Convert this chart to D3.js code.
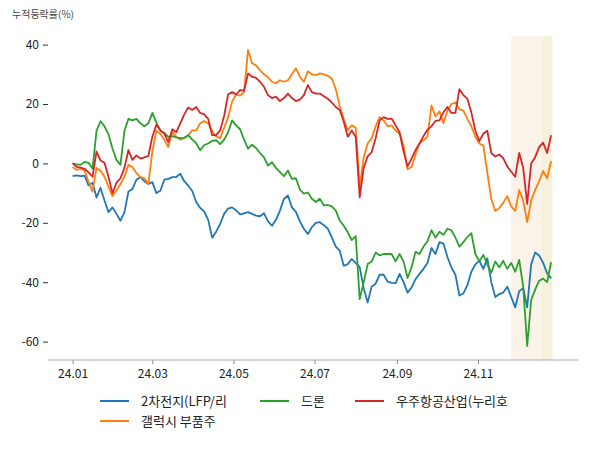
<!DOCTYPE html>
<html><head><meta charset="utf-8">
<script src="https://cdn.jsdelivr.net/npm/d3@7"></script>
<style>
body{margin:0;background:#fff;}
svg{display:block;font-family:"Noto Sans CJK KR","Noto Sans",sans-serif;}
</style>
</head><body><svg id="c" width="600" height="450"></svg>
<script>
// ---- data ----
const startDate = "2024-01-01";
const stepDays = 3;
const seriesNames = ["2차전지(LFP/리", "갤럭시 부품주", "드론", "우주항공산업(누리호"];
const seriesColors = ["#1f77b4", "#ff7f0e", "#2ca02c", "#d62728"];

const battery = [-4.3,-4.0,-4.3,-4.1,-7.4,-6.5,-11.5,-8.2,-12.5,-16.4,
-14.8,-17.0,-19.3,-16.5,-9.5,-8.6,-5.5,-4.6,-6.0,-6.9,
-6.3,-10.0,-9.2,-5.5,-5.2,-4.6,-4.6,-3.5,-6.0,-7.5,
-9.3,-13.0,-15.0,-16.2,-19.0,-25.0,-23.0,-20.4,-17.0,-15.2,
-14.8,-15.8,-17.2,-16.8,-16.4,-17.0,-17.6,-17.8,-16.8,-19.5,
-21.0,-19.0,-15.9,-12.0,-10.8,-14.8,-16.3,-19.5,-22.0,-23.8,
-21.5,-20.0,-19.8,-20.8,-22.0,-24.9,-28.0,-29.4,-34.5,-33.9,
-32.2,-33.5,-35.0,-42.0,-46.8,-41.5,-40.5,-37.5,-37.5,-39.8,
-40.2,-40.3,-37.2,-40.0,-43.5,-41.8,-39.0,-37.2,-35.5,-33.5,
-28.5,-30.5,-26.5,-27.0,-31.5,-35.0,-37.5,-44.5,-43.8,-41.0,
-36.5,-34.0,-32.8,-35.5,-32.0,-40.0,-45.0,-44.0,-43.5,-41.5,
-45.0,-48.5,-43.0,-42.0,-48.5,-34.0,-30.0,-31.0,-33.5,-37.0,
-38.7];

const galaxy = [-1.2,-2.2,-1.8,-2.4,-6.2,-9.5,-1.5,-2.5,-4.5,-7.8,
-11.0,-9.0,-7.0,-4.5,-0.5,-1.2,-3.3,-4.6,-5.0,-6.9,
4.0,11.0,10.0,8.0,5.5,10.5,9.0,8.0,8.5,9.5,
11.1,11.1,13.5,14.3,13.5,11.0,9.0,8.5,12.0,15.5,
20.8,23.2,22.8,24.0,38.2,33.7,33.0,31.4,30.0,29.0,
27.5,27.0,28.0,27.5,28.0,30.0,32.0,29.2,27.5,31.0,
30.0,29.7,30.3,30.0,29.5,28.6,25.0,19.2,15.0,11.2,
12.8,12.0,-8.0,2.0,6.7,8.5,12.5,15.6,14.5,12.5,
12.8,11.1,10.0,6.0,-2.0,-1.2,3.0,6.8,7.8,9.0,
19.5,15.8,17.5,13.5,17.8,20.0,20.5,18.3,17.8,15.0,
12.5,9.0,6.7,6.0,-3.0,-12.0,-16.0,-15.0,-13.3,-11.0,
-14.5,-16.0,-9.0,-12.5,-19.8,-12.5,-9.0,-6.0,-2.5,-5.0,
0.8];

const drone = [-0.1,-0.3,-0.5,0.5,0.2,-1.8,11.0,14.2,12.5,9.8,
5.0,1.2,-0.5,11.0,15.0,14.5,15.0,13.5,12.5,13.5,
17.0,13.8,11.0,10.3,8.9,9.2,8.8,8.5,8.6,9.5,
8.0,6.8,4.4,6.2,6.7,7.6,7.8,6.5,8.0,10.5,
14.5,12.8,11.5,8.0,5.0,6.3,5.2,3.5,2.0,-0.7,
0.4,-1.5,-2.9,-4.3,-2.4,-5.2,-5.0,-8.8,-10.2,-9.8,
-11.9,-13.0,-11.9,-14.2,-14.0,-14.5,-15.9,-19.2,-21.0,-23.2,
-25.8,-24.5,-45.7,-40.0,-33.9,-33.0,-30.0,-31.0,-30.5,-30.5,
-30.5,-33.0,-30.5,-33.0,-38.6,-35.0,-29.8,-30.5,-28.0,-26.2,
-22.5,-25.0,-23.0,-24.0,-22.0,-22.5,-25.0,-28.0,-26.5,-24.8,
-23.5,-30.5,-33.0,-30.8,-34.0,-36.8,-33.0,-35.0,-32.8,-35.5,
-33.5,-36.5,-32.5,-41.5,-61.5,-46.0,-42.5,-39.5,-38.8,-40.0,
-33.3];

const aerospace = [0.1,-1.2,-1.4,-1.8,-3.0,-4.5,4.0,1.0,0.2,-4.5,
-10.0,-6.5,-5.0,-1.5,4.5,1.2,2.7,1.6,2.0,2.5,
9.0,13.0,11.2,10.0,7.2,11.5,10.5,13.5,16.5,18.8,
18.0,19.0,17.0,16.5,15.0,9.5,9.5,11.1,16.0,23.2,
24.0,23.2,24.7,24.5,30.3,29.2,28.8,27.5,25.8,23.0,
22.0,22.5,21.0,22.0,23.5,22.0,21.0,21.5,23.0,26.4,
24.0,23.5,23.5,22.6,21.8,20.5,19.0,18.0,14.0,9.0,
11.1,9.0,-11.4,-1.5,2.4,3.8,8.5,14.5,15.6,15.0,
15.1,12.8,10.5,4.0,-1.0,1.6,4.5,6.7,9.2,11.3,
12.5,14.3,14.5,17.2,19.0,17.0,17.0,25.0,23.0,21.8,
17.2,11.0,7.5,10.0,11.0,3.5,2.3,3.0,1.8,-1.0,
-2.8,-4.5,3.5,-1.5,-13.6,0.0,2.1,5.5,7.0,3.5,
9.5];

const xTickDates = ["2024-01-01","2024-03-01","2024-05-01","2024-07-01","2024-09-01","2024-11-01"];
const xTickLabels = ["24.01","24.03","24.05","24.07","24.09","24.11"];
const yTicks = [-60,-40,-20,0,20,40];
const shadeRanges = [["2024-11-26","2024-12-19"],["2024-12-19","2024-12-27"]];
const shadeColors = ["#fbf2ea","#f6f1da"];
const yLabel = "누적등락률(%)";

// ---- chart ----
const parse = d3.timeParse("%Y-%m-%d");
const svg = d3.select("#c");
const plotL = 48, plotR = 578, plotT = 36, plotB = 360;

const x = d3.scaleTime()
  .domain([parse("2024-01-01"), parse("2024-11-01")])
  .range([72.6, 478]);
const y = d3.scaleLinear().domain([-66.2, 42.9]).range([plotB, plotT]);

const allSeries = [battery, galaxy, drone, aerospace];
const start = parse(startDate);
const dates = battery.map((_, i) => d3.timeDay.offset(start, i * stepDays));

// shading
svg.append("g").selectAll("rect").data(shadeRanges).join("rect")
  .attr("x", d => x(parse(d[0])))
  .attr("width", d => x(parse(d[1])) - x(parse(d[0])))
  .attr("y", plotT).attr("height", plotB - plotT)
  .attr("fill", (d, i) => shadeColors[i]);

// y axis
const yAxis = d3.axisLeft(y).tickValues(yTicks).tickSize(5).tickPadding(4).tickFormat(d => String(d));
const gy = svg.append("g").attr("transform", `translate(${plotL},0)`).call(yAxis);
gy.select(".domain").remove();
gy.selectAll(".tick line").attr("stroke", "#333");
gy.selectAll(".tick text").attr("fill", "#222").style("font-size", "12px")
  .style("font-family", "'Noto Sans CJK KR','Noto Sans',sans-serif");

// x axis
const xAxis = d3.axisBottom(x).tickValues(xTickDates.map(parse))
  .tickFormat((d, i) => xTickLabels[i]).tickSize(4).tickPadding(5);
const gx = svg.append("g").attr("transform", `translate(0,${plotB})`).call(xAxis);
gx.select(".domain").remove();
gx.selectAll(".tick line").attr("stroke", "#888");
gx.selectAll(".tick text").attr("fill", "#222").style("font-size", "12px")
  .style("font-family", "'Noto Sans CJK KR','Noto Sans',sans-serif");
svg.append("line").attr("x1", plotL).attr("x2", plotR).attr("y1", plotB).attr("y2", plotB)
  .attr("stroke", "#aaa").attr("stroke-width", 1);

// lines
const line = d3.line().x((d, i) => x(dates[i])).y(d => y(d));
svg.append("g").selectAll("path").data(allSeries).join("path")
  .attr("d", d => line(d))
  .attr("fill", "none")
  .attr("stroke", (d, i) => seriesColors[i])
  .attr("stroke-width", 1.8)
  .attr("stroke-linejoin", "round");

// y label
svg.append("text").attr("x", 12).attr("y", 18).text(yLabel)
  .attr("fill", "#444").style("font-size", "10px");

// legend (matplotlib column-major order, 3 columns)
const legendPos = [[100, 401], [100, 421], [260, 401], [355, 401]];
const lg = svg.append("g").selectAll("g").data(seriesNames).join("g")
  .attr("transform", (d, i) => `translate(${legendPos[i][0]},${legendPos[i][1]})`);
lg.append("line").attr("x1", 0).attr("x2", 29).attr("y1", 0).attr("y2", 0)
  .attr("stroke", (d, i) => seriesColors[i]).attr("stroke-width", 2);
lg.append("text").attr("x", 41).attr("y", 0).attr("dy", "0.35em").text(d => d)
  .attr("fill", "#222").style("font-size", "13px");
</script>
</body></html>
